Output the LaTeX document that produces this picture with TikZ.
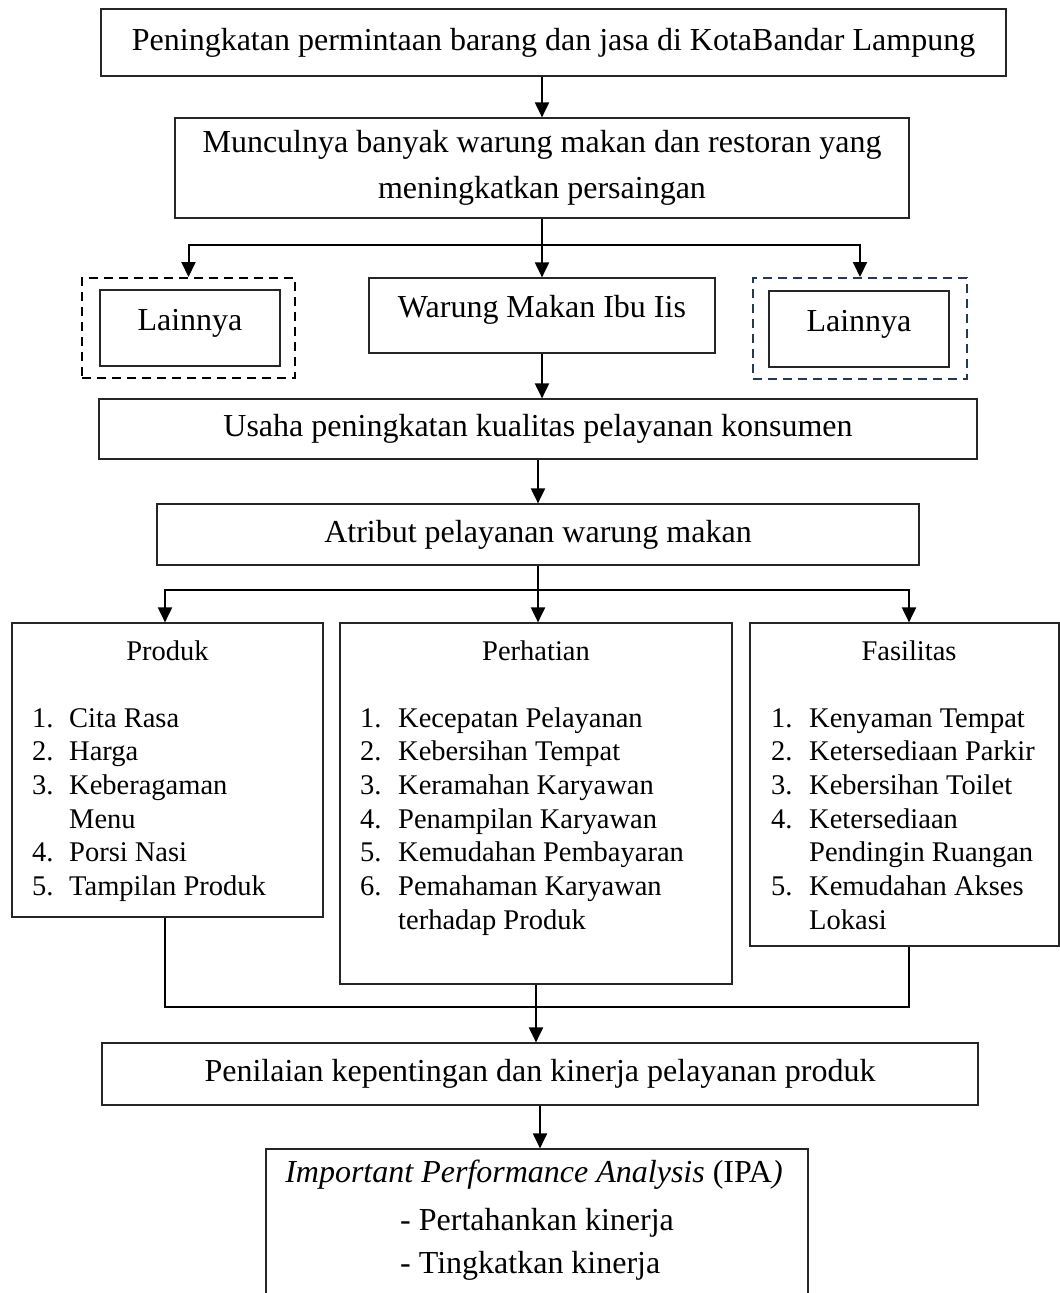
\documentclass[tikz,border=0pt]{standalone}
\usepackage{fontspec}
\setmainfont{Liberation Serif}
\usetikzlibrary{arrows.meta}

\definecolor{lainblue}{RGB}{35,57,86}
\newcommand{\bigtxt}{\fontsize{32}{46}\selectfont}
\newcommand{\listtxt}{\fontsize{28.5}{33.7}\selectfont}

\tikzset{
  box/.style={draw=black!85, line width=1.2pt, inner sep=0pt, font=\bigtxt},
  dashbox/.style={draw, line width=2pt, dash pattern=on 9pt off 6pt, inner sep=0pt},
  link/.style={line width=2pt},
  arr/.style={link, -{Triangle[length=15pt,width=14pt]}},
  judul/.style={font=\listtxt, inner sep=0pt, anchor=base},
  daftar/.style={font=\listtxt, inner sep=0pt, anchor=base west},
}

\begin{document}
\begin{tikzpicture}[x=1pt, y=-1pt]
    \useasboundingbox (0,0) rectangle (1060,1293);
    % atas
    \node [box, minimum width=905pt, minimum height=67pt] (permintaan) at (553.5,42.5)
        {Peningkatan permintaan barang dan jasa di KotaBandar Lampung};
    \node [box, minimum width=734pt, minimum height=100pt, align=center] (muncul) at (542,168)
        {Munculnya banyak warung makan dan restoran yang\\meningkatkan persaingan};
    % warung
    \node [dashbox, minimum width=213pt, minimum height=100pt] (lainAluar) at (188.5,328) {};
    \node [box, minimum width=180pt, minimum height=76pt, text depth=17pt] (lainA) at (190,328) {Lainnya};
    \node [box, minimum width=346pt, minimum height=75pt, text depth=19pt] (warung) at (542,315.5) {Warung Makan Ibu Iis};
    \node [dashbox, draw=lainblue, minimum width=214pt, minimum height=101pt] (lainBluar) at (860,328.5) {};
    \node [box, minimum width=180pt, minimum height=76pt, text depth=17pt] (lainB) at (859,329) {Lainnya};
    % usaha
    \node [box, minimum width=878pt, minimum height=60pt] (usaha) at (538,429)
        {Usaha peningkatan kualitas pelayanan konsumen};
    \node [box, minimum width=762pt, minimum height=61pt] (atribut) at (538,534.5)
        {Atribut pelayanan warung makan};
    % atribut
    \node [box, minimum width=311pt, minimum height=294pt] (produk) at (167.5,770) {};
    \node [box, minimum width=392pt, minimum height=361pt] (perhatian) at (536,803.5) {};
    \node [box, minimum width=309pt, minimum height=323pt] (fasilitas) at (904.5,784.5) {};
    \node [judul] (produkjudul) at (167.5,660) {Produk};
    \node [judul] (perhatianjudul) at (536,660) {Perhatian};
    \node [judul] (fasilitasjudul) at (909,660) {Fasilitas};
    \node [daftar] (produkdaftar) at (32,727) {\begin{tabular}[t]{@{}p{37pt}@{}l@{}}
        1. & Cita Rasa\\ 2. & Harga\\ 3. & Keberagaman\\ & Menu\\ 4. & Porsi Nasi\\ 5. & Tampilan Produk
        \end{tabular}};
    \node [daftar] (perhatiandaftar) at (360,727) {\begin{tabular}[t]{@{}p{38pt}@{}l@{}}
        1. & Kecepatan Pelayanan\\ 2. & Kebersihan Tempat\\ 3. & Keramahan Karyawan\\ 4. & Penampilan Karyawan\\
        5. & Kemudahan Pembayaran\\ 6. & Pemahaman Karyawan\\ & terhadap Produk
        \end{tabular}};
    \node [daftar] (fasilitasdaftar) at (771,727) {\begin{tabular}[t]{@{}p{38pt}@{}l@{}}
        1. & Kenyaman Tempat\\ 2. & Ketersediaan Parkir\\ 3. & Kebersihan Toilet\\ 4. & Ketersediaan\\
        & Pendingin Ruangan\\ 5. & Kemudahan Akses\\ & Lokasi
        \end{tabular}};
    % penilaian
    \node [box, minimum width=876pt, minimum height=62pt] (penilaian) at (540,1074)
        {Penilaian kepentingan dan kinerja pelayanan produk};
    \node [box, minimum width=542pt, minimum height=171pt] (ipa) at (537,1234.5) {};
    \node [font=\bigtxt, inner sep=0pt, anchor=base] (ipajudul) at (534,1182)
        {\textit{Important Performance Analysis} (IPA\textit{)}};
    \node [font=\bigtxt, inner sep=0pt, anchor=base west] (ipasatu) at (400,1230) {- Pertahankan kinerja};
    \node [font=\bigtxt, inner sep=0pt, anchor=base west] (ipadua) at (400,1273) {- Tingkatkan kinerja};

    % panah
    \coordinate (cabang1) at (542,245);
    \coordinate (cabang2) at (538,590);
    \coordinate (gabung) at (539,1007);
    \draw [arr] (permintaan.south -| muncul.north) -- (muncul.north);
    \draw [arr] (muncul.south) -- (cabang1) -| (lainAluar.north);
    \draw [arr] (cabang1) -| (lainBluar.north);
    \draw [arr] (cabang1) -- (warung.north);
    \draw [arr] (warung.south) -- (warung.south |- usaha.north);
    \draw [arr] (usaha.south) -- (atribut.north);
    \draw [arr] (atribut.south) -- (cabang2) -| ([xshift=-2.5pt]produk.north);
    \draw [arr] (cabang2) -| ([xshift=4.5pt]fasilitas.north);
    \draw [arr] (cabang2) -- (cabang2 |- perhatian.north);
    \draw [link] ([xshift=-2.5pt]produk.south) |- (gabung);
    \draw [link] ([xshift=4.5pt]fasilitas.south) |- (gabung);
    \draw [arr] (perhatian.south) -- (perhatian.south |- penilaian.north);
    \draw [arr] (penilaian.south) -- (penilaian.south |- ipa.north);
\end{tikzpicture}
\end{document}
